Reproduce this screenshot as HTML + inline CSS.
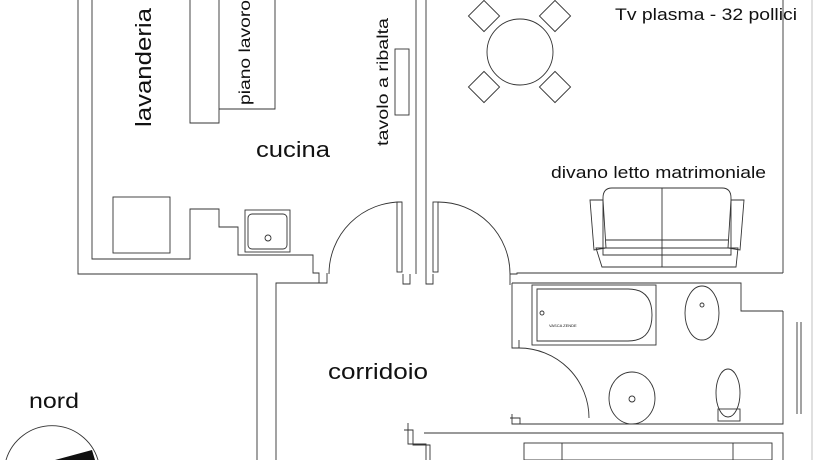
<!DOCTYPE html>
<html><head><meta charset="utf-8"><style>
html,body{margin:0;padding:0;background:#fff;width:840px;height:460px;overflow:hidden}
svg{display:block}
text{font-family:"Liberation Sans",sans-serif;fill:#111}
</style></head><body>
<svg width="840" height="460" viewBox="0 0 840 460" xmlns="http://www.w3.org/2000/svg">
<g fill="none" stroke="#333" stroke-width="0.9">
<polyline points="78,0 78,274 257,274 257,460"/>
<polyline points="92,0 92,259 190,259 190,209 219,209 219,227 238,227 238,255 313,255 313,273 319,273 319,283 327,283 327,273"/>
<polyline points="190,0 190,123 219,123 219,0"/>
<polyline points="219,109 275,109 275,0"/>
<rect x="395" y="49" width="14" height="66"/>
<rect x="113" y="197" width="57" height="56"/>
<rect x="245" y="210" width="45" height="42"/>
<rect x="248" y="214" width="39" height="35" rx="4"/>
<circle cx="268" cy="238" r="3"/>
<line x1="416" y1="0" x2="416" y2="274"/>
<line x1="426" y1="0" x2="426" y2="274"/>
<rect x="397" y="202" width="5" height="70"/>
<rect x="433" y="202" width="5" height="70"/>
<polyline points="403,274 403,284 410,284 410,274"/>
<polyline points="426,274 426,284 433,284 433,274"/>
<path d="M402,202 A72,72 0 0 0 329,274"/>
<path d="M438,202 A72,72 0 0 1 510,274"/>
<line x1="783" y1="0" x2="783" y2="273"/>
<line x1="812" y1="0" x2="812" y2="460" stroke="#bbb"/>
<polyline points="510,274 517,274 517,273 783,273"/>
<polyline points="510,274 510,285"/>
<circle cx="520" cy="52" r="33"/>
<g transform="translate(484,16) rotate(45)"><rect x="-11" y="-11" width="22" height="22"/></g>
<g transform="translate(555,16) rotate(45)"><rect x="-11" y="-11" width="22" height="22"/></g>
<g transform="translate(484,87) rotate(45)"><rect x="-11" y="-11" width="22" height="22"/></g>
<g transform="translate(555,87) rotate(45)"><rect x="-11" y="-11" width="22" height="22"/></g>
<path d="M603,198 Q603,188 612,188 L722,188 Q731,188 731,198 L731,255 L603,255 Z"/>
<line x1="662" y1="188" x2="662" y2="267"/>
<path d="M590,200 L603,200 L606,248 L594,250 Z"/>
<path d="M731,200 L744,200 L740,250 L728,248 Z"/>
<path d="M596,248 L738,248 L736,267 L602,267 Z"/>
<line x1="606" y1="240" x2="728" y2="240"/>
<polyline points="276,460 276,283 322,283"/>
<polyline points="512,283 741,283 741,311 783,311"/>
<polyline points="783,311 783,424 518,424"/>
<line x1="797" y1="322" x2="797" y2="414"/>
<line x1="801" y1="322" x2="801" y2="414"/>
<polyline points="512,283 512,348 519,348 519,340"/>
<polyline points="512,414 512,424 519,424"/>
<polyline points="510,418 520,418 520,424"/>
<rect x="532" y="285" width="124" height="60"/>
<path d="M537,289 L628,289 Q652,289 652,315 Q652,341 628,341 L537,341 Z"/>
<circle cx="542" cy="313" r="2"/>
<path d="M519,348 A70,70 0 0 1 589,418"/>
<ellipse cx="702" cy="313" rx="17" ry="27"/>
<circle cx="702" cy="305" r="2"/>
<ellipse cx="632" cy="398" rx="23" ry="26"/>
<circle cx="632" cy="399" r="3"/>
<ellipse cx="728" cy="393" rx="12" ry="24"/>
<rect x="718" y="409" width="22" height="12"/>
<polyline points="408,423 408,444 426,444 426,460"/>
<polyline points="424,433 783,433 783,460"/>
<polyline points="404,430 413,430 413,445 430,445 430,460"/>
<rect x="524" y="443" width="248" height="17"/>
<line x1="562" y1="443" x2="562" y2="460"/>
<line x1="733" y1="443" x2="733" y2="460"/>
<path d="M6,460 A48,48 0 0 1 98,460"/>
</g>
<path d="M55,460 L92,450 L95,460 Z" fill="#111"/>
<text transform="translate(151,127) rotate(-90)" font-size="22" textLength="119" lengthAdjust="spacingAndGlyphs">lavanderia</text>
<text transform="translate(250,105) rotate(-90)" font-size="16" textLength="105" lengthAdjust="spacingAndGlyphs">piano lavoro</text>
<text transform="translate(388,146) rotate(-90)" font-size="16" textLength="128" lengthAdjust="spacingAndGlyphs">tavolo a ribalta</text>
<text x="256" y="157" font-size="22" textLength="74" lengthAdjust="spacingAndGlyphs">cucina</text>
<text x="615" y="20" font-size="17" textLength="182" lengthAdjust="spacingAndGlyphs">Tv plasma - 32 pollici</text>
<text x="551" y="178" font-size="17" textLength="215" lengthAdjust="spacingAndGlyphs">divano letto matrimoniale</text>
<text x="328" y="379" font-size="22" textLength="100" lengthAdjust="spacingAndGlyphs">corridoio</text>
<text x="29" y="408" font-size="21" textLength="50" lengthAdjust="spacingAndGlyphs">nord</text>
<text x="549" y="327" font-size="4">VASCA ZENDE</text>
</svg>
</body></html>
